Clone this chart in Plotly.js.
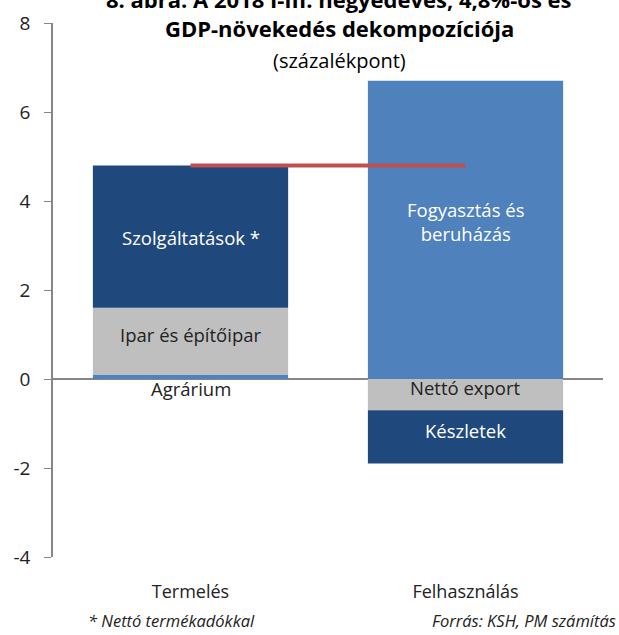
<!DOCTYPE html>
<html>
<head>
<meta charset="utf-8">
<script src="https://cdn.plot.ly/plotly-3.0.1.min.js"></script>
<style>
  body { margin: 0; background: #fff; }
  #plotlyDiv { width: 619px; height: 635px; }
</style>
</head>
<body>
<div id="plotlyDiv"></div>
<script>
// categories on the x axis
var categories = ["Termelés", "Felhasználás"];

// stacked contributions, grouped by colour (percentage points)
var lightBlue = [0.1, 6.7];   // Agrárium / Fogyasztás és beruházás
var grey = [1.5, -0.7];       // Ipar és építőipar / Nettó export
var darkBlue = [3.2, -1.2];   // Szolgáltatások / Készletek

// GDP growth line
var gdpGrowth = [4.8, 4.8];

var tickVals = [-4, -2, 0, 2, 4, 6, 8];
var tickText = ["-4", "-2", "0", "2", "4", "6", "8"];

function plotly_gdp() {
    var font = '"Open Sans", "Noto Sans", sans-serif';

    var trace1 = {
        type: 'bar',
        x: categories,
        y: lightBlue,
        marker: {color: '#4f81bd'},
        hoverinfo: 'y'
    };
    var trace2 = {
        type: 'bar',
        x: categories,
        y: grey,
        marker: {color: '#bfbfbf'},
        hoverinfo: 'y'
    };
    var trace3 = {
        type: 'bar',
        x: categories,
        y: darkBlue,
        marker: {color: '#1f497d'},
        hoverinfo: 'y'
    };
    var trace4 = {
        type: 'scatter',
        mode: 'lines',
        x: categories,
        y: gdpGrowth,
        line: {color: '#c0504d', width: 4},
        hoverinfo: 'y'
    };

    var data = [trace1, trace2, trace3, trace4];

    function lbl(x, y, text, color) {
        return {x: x, y: y, xref: 'x', yref: 'y', text: text, showarrow: false,
                font: {family: font, size: 18.5, color: color}};
    }

    var layout = {
        width: 619,
        height: 635,
        showlegend: false,
        barmode: 'relative',
        bargap: 0.29,
        font: {family: font, size: 18, color: '#222'},
        paper_bgcolor: '#ffffff',
        plot_bgcolor: '#ffffff',
        margin: {l: 53, r: 16, t: 23, b: 78},
        xaxis: {
            showline: false,
            ticks: '',
            showgrid: false,
            zeroline: false,
            ticklabelstandoff: 22,
            tickfont: {size: 18, color: '#222'}
        },
        yaxis: {
            range: [-4, 8],
            tickvals: tickVals,
            ticktext: tickText,
            showline: true,
            linecolor: '#868686',
            linewidth: 1.5,
            ticks: 'outside',
            ticklen: 7,
            tickcolor: '#868686',
            ticklabelstandoff: 10,
            showgrid: false,
            zeroline: true,
            zerolinecolor: '#868686',
            zerolinewidth: 1.5,
            tickfont: {size: 19, color: '#222'}
        },
        annotations: [
            {xref: 'paper', yref: 'paper', x: 0.52, y: 1.045, yanchor: 'middle',
             text: '<b>8. ábra: A 2018 I-III. negyedéves, 4,8%-os és</b>', showarrow: false,
             font: {family: font, size: 22, color: '#000'}},
            {xref: 'paper', yref: 'paper', x: 0.52, y: 0.99, yanchor: 'middle',
             text: '<b>GDP-növekedés dekompozíciója</b>', showarrow: false,
             font: {family: font, size: 22, color: '#000'}},
            {xref: 'paper', yref: 'paper', x: 0.52, y: 0.929, yanchor: 'middle',
             text: '(százalékpont)', showarrow: false,
             font: {family: font, size: 20, color: '#000'}},
            lbl('Termelés', 3.19, 'Szolgáltatások *', '#ffffff'),
            lbl('Termelés', 1.01, 'Ipar és építőipar', '#222'),
            lbl('Termelés', -0.22, 'Agrárium', '#222'),
            lbl('Felhasználás', 3.53, 'Fogyasztás és<br>beruházás', '#ffffff'),
            lbl('Felhasználás', -0.18, 'Nettó export', '#222'),
            lbl('Felhasználás', -1.15, 'Készletek', '#ffffff'),
            {xref: 'paper', yref: 'paper', x: 0.06, y: -0.119, xanchor: 'left', yanchor: 'middle',
             text: '<i>* Nettó termékadókkal</i>', showarrow: false,
             font: {family: font, size: 16.5, color: '#222'}},
            {xref: 'paper', yref: 'paper', x: 1.027, y: -0.119, xanchor: 'right', yanchor: 'middle',
             text: '<i>Forrás: KSH, PM számítás</i>', showarrow: false,
             font: {family: font, size: 16.5, color: '#222'}}
        ]
    };

    Plotly.newPlot('plotlyDiv', data, layout, {displayModeBar: false});
}

plotly_gdp();
</script>
</body>
</html>
